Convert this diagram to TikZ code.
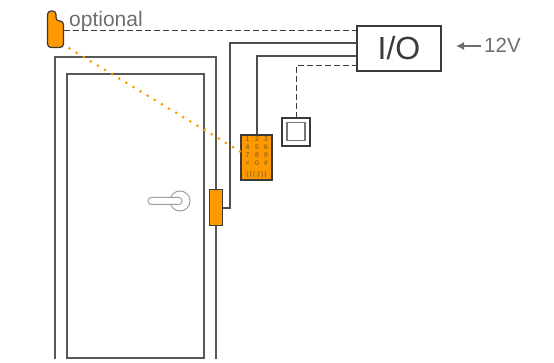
\documentclass[tikz,border=0pt]{standalone}
\usepackage{fontspec}
\usetikzlibrary{arrows.meta}
\setmainfont{Liberation Sans}
\definecolor{wire}{HTML}{3A3A3A}
\definecolor{gtext}{HTML}{6E6E6E}
\definecolor{org}{HTML}{FF9900}
\tikzset{
  wireline/.style={draw=wire!90,line width=1.2pt},
  dashline/.style={draw=wire,line width=1pt,dash pattern=on 5.5pt off 3.5pt},
  doorline/.style={draw=wire!85,line width=1.3pt},
  device/.style={draw=wire,line width=1.2pt,fill=org,inner sep=0pt},
  key/.style={font=\fontsize{6.8}{7}\selectfont,text=wire!75!org,inner sep=0pt},
}
\begin{document}
\begin{tikzpicture}[x=1pt,y=-1pt]
\useasboundingbox (0,0) rectangle (554,363);
% anchors
\coordinate (ioTop) at (357,31);
\coordinate (ioA) at (357,43);
\coordinate (ioB) at (357,56);
\coordinate (ioC) at (357,66);
\coordinate (fobR) at (64,31);
\coordinate (bendA) at (230,43);
\coordinate (lockOut) at (223,208);
\coordinate (bendB) at (257,56);
\coordinate (bendC) at (296,66);
% door
\draw[doorline] (55,359) -- (55,57) -- (216,57) -- (216,359);
\draw[doorline] (67,358) -- (67,74) -- (204,74) -- (204,358) -- cycle;
% handle
\draw[draw=gray!75,line width=1pt] (180,201) circle (10);
\draw[draw=gray!75,line width=1pt,fill=white,rounded corners=3.2pt] (148,197.5) rectangle (182,204.5);
% io box
\node[draw=wire,line width=1.2pt,minimum width=84pt,minimum height=45pt,inner sep=0pt,font=\fontsize{32}{34}\selectfont,text=wire] (io) at (399,48.5) {I/O};
% wires
\draw[dashline] (fobR) -- (ioTop);
\draw[wireline] (lockOut) -| (bendA) -- (ioA);
\draw[dashline] (296,118) -- (bendC) -- (ioC);
% switch
\node[draw=wire,line width=1.2pt,fill=white,minimum width=28pt,minimum height=28pt,inner sep=0pt] (sw) at (296,132) {};
\node[draw=wire!70,line width=1.2pt,minimum width=18pt,minimum height=18pt,inner sep=0pt] (swi) at (296,131.5) {};
% keypad
\node[device,minimum width=31pt,minimum height=45pt] (kp) at (256.5,157.5) {};
\foreach \r/\a/\b/\c in {0/1/2/3,1/4/5/6,2/7/8/9,3/</0/\#}{
  \node[key] at (247.5,{139.5+\r*8}) {\a};
  \node[key] at (257,{139.5+\r*8}) {\b};
  \node[key] at (266,{139.5+\r*8}) {\c};
}
\node[key] at (256.5,174.5) {(\,(\,(\,\raisebox{0pt}{\fontsize{4}{4}\selectfont ı})\,)\,)};
\draw[wireline] (kp.north -| bendB) -- (bendB) -- (ioB);
% lock
\node[device,minimum width=12.5pt,minimum height=35.5pt] (lock) at (216,207.5) {};
\draw[wireline] (lock.east |- lockOut) -- (lockOut);
% dotted
\draw[draw=org,line width=3pt,line cap=round,dash pattern=on 0pt off 8.3pt] (69.5,48.5) -- (241,152);
% fob
\draw[device,rounded corners=3.5pt] (47.5,11) -- (56,11) -- (56,21) -- (63.5,21) -- (63.5,47.5) -- (47.5,47.5) -- cycle;
% labels
\node[anchor=base west,inner sep=0pt,font=\fontsize{21}{23}\selectfont,text=gtext] (opt) at (69,26.5) {optional};
\node[anchor=base west,inner sep=0pt,font=\fontsize{20.5}{22}\selectfont,text=gtext] (v) at (484,53) {12V};
\coordinate (vs) at (481,46);
\draw[draw=gtext,line width=1.2pt,-{Latex[length=8pt,width=8pt]}] (vs) -- (456,46);
\end{tikzpicture}
\end{document}
